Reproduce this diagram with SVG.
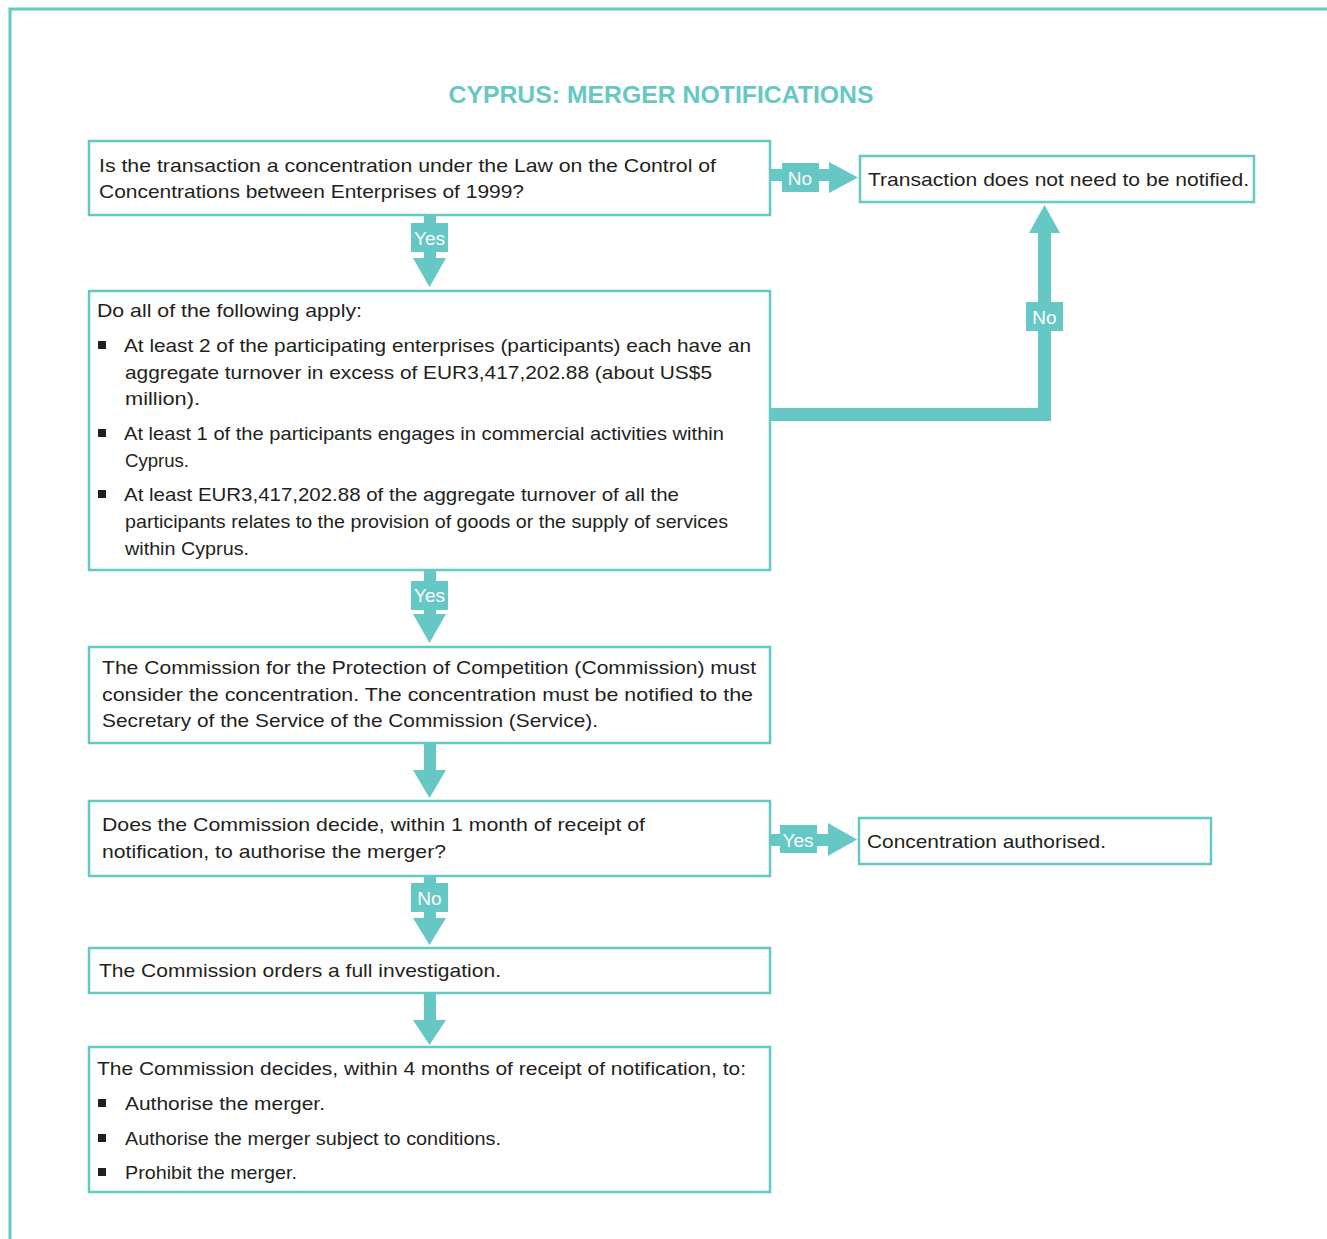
<svg xmlns="http://www.w3.org/2000/svg" width="1327" height="1239" viewBox="0 0 1327 1239">
<style>
.box{fill:#fff;stroke:#66c8c4;stroke-width:2.5}
.t{font-family:"Liberation Sans",Arial,sans-serif;font-size:19px;fill:#231f20}
.title{font-family:"Liberation Sans",Arial,sans-serif;font-size:23px;font-weight:bold;fill:#66c8c4}
.lab{font-family:"Liberation Sans",Arial,sans-serif;font-size:19px;fill:#fff;text-anchor:middle}
.ar{fill:#66c8c4}
.bul{fill:#231f20}
</style>
<rect width="1327" height="1239" fill="#fff"/>
<path d="M10,1239 V9 H1327" fill="none" stroke="#66c8c4" stroke-width="3"/>
<text class="title" x="661" y="103" text-anchor="middle" textLength="425" lengthAdjust="spacingAndGlyphs">CYPRUS: MERGER NOTIFICATIONS</text>

<g id="connectors">
  <!-- box1 -> No -> not notified -->
  <g id="c1">
    <rect class="ar" x="770" y="169" width="60" height="12"/>
    <polygon class="ar" points="829,162 858,177.5 829,193"/>
    <rect class="ar" x="782" y="163" width="37" height="29"/>
    <text class="lab" x="800" y="185">No</text>
  </g>
  <!-- box1 -> Yes -> box2 -->
  <g id="c2">
    <rect class="ar" x="424" y="215" width="12" height="45"/>
    <polygon class="ar" points="413,258 446,258 429.5,287"/>
    <rect class="ar" x="411" y="223" width="37" height="29"/>
    <text class="lab" x="429.5" y="245">Yes</text>
  </g>
  <!-- box2 -> No -> not notified -->
  <g id="c3">
    <path class="ar" d="M770,408 H1038 V232 H1051 V421 H770 Z"/>
    <polygon class="ar" points="1029,233 1060,233 1044.5,205"/>
    <rect class="ar" x="1026" y="302" width="37" height="29"/>
    <text class="lab" x="1044.5" y="324">No</text>
  </g>
  <!-- box2 -> Yes -> box3 -->
  <g id="c4">
    <rect class="ar" x="424" y="570" width="12" height="46"/>
    <polygon class="ar" points="413,614 446,614 429.5,643"/>
    <rect class="ar" x="411" y="581" width="37" height="29"/>
    <text class="lab" x="429.5" y="602">Yes</text>
  </g>
  <!-- box3 -> box4 -->
  <g id="c5">
    <rect class="ar" x="424" y="743" width="12" height="29"/>
    <polygon class="ar" points="413,770 446,770 429.5,798"/>
  </g>
  <!-- box4 -> Yes -> authorised -->
  <g id="c6">
    <rect class="ar" x="770" y="834" width="60" height="12"/>
    <polygon class="ar" points="828,823 857,839.5 828,856"/>
    <rect class="ar" x="780" y="825" width="37" height="28"/>
    <text class="lab" x="798" y="847">Yes</text>
  </g>
  <!-- box4 -> No -> box5 -->
  <g id="c7">
    <rect class="ar" x="424" y="876" width="12" height="44"/>
    <polygon class="ar" points="413,918 446,918 429.5,945"/>
    <rect class="ar" x="411" y="883" width="37" height="29"/>
    <text class="lab" x="429.5" y="905">No</text>
  </g>
  <!-- box5 -> box6 -->
  <g id="c8">
    <rect class="ar" x="424" y="993" width="12" height="29"/>
    <polygon class="ar" points="413,1020 446,1020 429.5,1045"/>
  </g>
</g>

<g id="box1">
  <rect class="box" x="89" y="141" width="681" height="74"/>
  <text class="t" x="99" y="172" textLength="617" lengthAdjust="spacingAndGlyphs">Is the transaction a concentration under the Law on the Control of</text>
  <text class="t" x="99" y="198" textLength="425" lengthAdjust="spacingAndGlyphs">Concentrations between Enterprises of 1999?</text>
</g>
<g id="notnotified">
  <rect class="box" x="860" y="156" width="394" height="46"/>
  <text class="t" x="868" y="186" textLength="381" lengthAdjust="spacingAndGlyphs">Transaction does not need to be notified.</text>
</g>
<g id="box2">
  <rect class="box" x="89" y="291" width="681" height="279"/>
  <text class="t" x="97" y="317" textLength="265" lengthAdjust="spacingAndGlyphs">Do all of the following apply:</text>
  <rect class="bul" x="98" y="341" width="8" height="8"/>
  <text class="t" x="124" y="352" textLength="627" lengthAdjust="spacingAndGlyphs">At least 2 of the participating enterprises (participants) each have an</text>
  <text class="t" x="125" y="379" textLength="587" lengthAdjust="spacingAndGlyphs">aggregate turnover in excess of EUR3,417,202.88 (about US$5</text>
  <text class="t" x="125" y="405" textLength="75" lengthAdjust="spacingAndGlyphs">million).</text>
  <rect class="bul" x="98" y="429" width="8" height="8"/>
  <text class="t" x="124" y="440" textLength="600" lengthAdjust="spacingAndGlyphs">At least 1 of the participants engages in commercial activities within</text>
  <text class="t" x="125" y="467" textLength="64" lengthAdjust="spacingAndGlyphs">Cyprus.</text>
  <rect class="bul" x="98" y="490" width="8" height="8"/>
  <text class="t" x="124" y="501" textLength="555" lengthAdjust="spacingAndGlyphs">At least EUR3,417,202.88 of the aggregate turnover of all the</text>
  <text class="t" x="125" y="528" textLength="603" lengthAdjust="spacingAndGlyphs">participants relates to the provision of goods or the supply of services</text>
  <text class="t" x="125" y="555" textLength="124" lengthAdjust="spacingAndGlyphs">within Cyprus.</text>
</g>
<g id="box3">
  <rect class="box" x="89" y="647" width="681" height="96"/>
  <text class="t" x="102" y="674" textLength="654" lengthAdjust="spacingAndGlyphs">The Commission for the Protection of Competition (Commission) must</text>
  <text class="t" x="102" y="701" textLength="651" lengthAdjust="spacingAndGlyphs">consider the concentration. The concentration must be notified to the</text>
  <text class="t" x="102" y="727" textLength="496" lengthAdjust="spacingAndGlyphs">Secretary of the Service of the Commission (Service).</text>
</g>
<g id="box4">
  <rect class="box" x="89" y="801" width="681" height="75"/>
  <text class="t" x="102" y="831" textLength="543" lengthAdjust="spacingAndGlyphs">Does the Commission decide, within 1 month of receipt of</text>
  <text class="t" x="102" y="858" textLength="344" lengthAdjust="spacingAndGlyphs">notification, to authorise the merger?</text>
</g>
<g id="authorised">
  <rect class="box" x="859" y="818" width="352" height="46"/>
  <text class="t" x="867" y="848" textLength="239" lengthAdjust="spacingAndGlyphs">Concentration authorised.</text>
</g>
<g id="box5">
  <rect class="box" x="89" y="948" width="681" height="45"/>
  <text class="t" x="99" y="977" textLength="402" lengthAdjust="spacingAndGlyphs">The Commission orders a full investigation.</text>
</g>
<g id="box6">
  <rect class="box" x="89" y="1047" width="681" height="145"/>
  <text class="t" x="97" y="1075" textLength="649" lengthAdjust="spacingAndGlyphs">The Commission decides, within 4 months of receipt of notification, to:</text>
  <rect class="bul" x="98" y="1099" width="8" height="8"/>
  <text class="t" x="125" y="1110" textLength="200" lengthAdjust="spacingAndGlyphs">Authorise the merger.</text>
  <rect class="bul" x="98" y="1134" width="8" height="8"/>
  <text class="t" x="125" y="1145" textLength="376" lengthAdjust="spacingAndGlyphs">Authorise the merger subject to conditions.</text>
  <rect class="bul" x="98" y="1168" width="8" height="8"/>
  <text class="t" x="125" y="1179" textLength="172" lengthAdjust="spacingAndGlyphs">Prohibit the merger.</text>
</g>
</svg>
